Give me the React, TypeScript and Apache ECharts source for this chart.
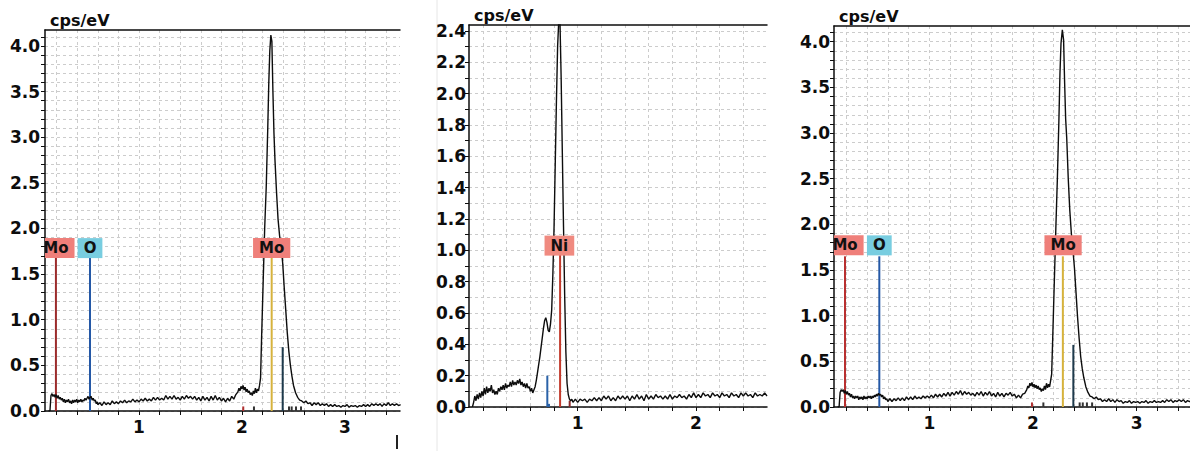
import React, { useEffect, useRef } from "react";
import * as echarts from "echarts";

// ---------- DATA ----------
// Panel 1 spectrum (keV, cps/eV)
const spec1: number[][] = [
  [0.12, 0.0], [0.135, 0.0], [0.145, 0.17], [0.155, 0.19], [0.165, 0.16], [0.175, 0.18], [0.185, 0.15], [0.195, 0.18],
  [0.205, 0.14], [0.215, 0.17], [0.225, 0.13], [0.235, 0.15], [0.245, 0.12], [0.255, 0.14], [0.265, 0.10], [0.275, 0.13],
  [0.285, 0.09], [0.295, 0.12], [0.305, 0.10], [0.315, 0.13], [0.325, 0.09], [0.335, 0.11], [0.345, 0.08], [0.355, 0.12],
  [0.365, 0.09], [0.375, 0.12], [0.385, 0.10], [0.395, 0.13], [0.405, 0.09], [0.415, 0.12], [0.425, 0.10], [0.435, 0.13],
  [0.445, 0.10], [0.455, 0.12], [0.465, 0.11], [0.475, 0.14], [0.485, 0.12], [0.495, 0.14], [0.505, 0.16], [0.515, 0.13],
  [0.525, 0.15], [0.535, 0.16], [0.545, 0.12], [0.555, 0.14], [0.565, 0.11], [0.575, 0.12], [0.585, 0.08], [0.595, 0.10],
  [0.60, 0.07], [0.62, 0.09], [0.64, 0.06], [0.66, 0.10], [0.68, 0.07], [0.70, 0.09], [0.72, 0.07], [0.74, 0.11],
  [0.76, 0.08], [0.78, 0.10], [0.80, 0.08], [0.82, 0.11], [0.84, 0.09], [0.86, 0.12], [0.88, 0.09], [0.90, 0.11],
  [0.92, 0.10], [0.94, 0.13], [0.96, 0.10], [0.98, 0.12], [1.00, 0.10], [1.02, 0.13], [1.04, 0.11], [1.06, 0.14],
  [1.08, 0.11], [1.10, 0.13], [1.12, 0.11], [1.14, 0.15], [1.16, 0.12], [1.18, 0.15], [1.20, 0.12], [1.22, 0.14],
  [1.24, 0.12], [1.26, 0.17], [1.28, 0.13], [1.30, 0.16], [1.32, 0.13], [1.34, 0.17], [1.36, 0.13], [1.38, 0.15],
  [1.40, 0.12], [1.42, 0.16], [1.44, 0.13], [1.46, 0.17], [1.48, 0.14], [1.50, 0.16], [1.52, 0.13], [1.54, 0.16],
  [1.56, 0.12], [1.58, 0.15], [1.60, 0.11], [1.62, 0.16], [1.64, 0.12], [1.66, 0.15], [1.68, 0.11], [1.70, 0.16],
  [1.72, 0.12], [1.74, 0.17], [1.76, 0.12], [1.78, 0.15], [1.80, 0.11], [1.82, 0.14], [1.84, 0.10], [1.86, 0.14],
  [1.88, 0.11], [1.90, 0.16], [1.92, 0.13], [1.94, 0.18], [1.96, 0.21], [1.97, 0.25], [1.98, 0.22], [1.99, 0.27],
  [2.00, 0.24], [2.01, 0.28], [2.02, 0.23], [2.03, 0.26], [2.04, 0.21], [2.05, 0.24], [2.06, 0.20], [2.07, 0.22],
  [2.08, 0.18], [2.09, 0.20], [2.10, 0.17], [2.11, 0.22], [2.12, 0.19], [2.13, 0.25], [2.14, 0.20], [2.15, 0.24],
  [2.16, 0.22], [2.17, 0.28], [2.18, 0.36], [2.19, 0.80], [2.205, 1.40], [2.22, 2.00], [2.235, 2.45], [2.25, 3.10],
  [2.26, 3.60], [2.27, 3.95], [2.28, 4.12], [2.29, 4.05], [2.30, 3.50], [2.31, 3.05], [2.32, 2.75], [2.335, 2.40],
  [2.35, 2.10], [2.365, 1.92], [2.38, 1.80], [2.395, 1.62], [2.41, 1.35], [2.425, 1.10], [2.44, 0.85], [2.455, 0.65],
  [2.47, 0.50], [2.485, 0.38], [2.50, 0.28], [2.52, 0.20], [2.54, 0.15], [2.56, 0.12], [2.58, 0.11], [2.60, 0.09],
  [2.62, 0.11], [2.64, 0.08], [2.66, 0.09], [2.68, 0.06], [2.70, 0.09], [2.72, 0.07], [2.74, 0.09], [2.76, 0.06],
  [2.78, 0.08], [2.80, 0.06], [2.82, 0.08], [2.84, 0.05], [2.86, 0.07], [2.88, 0.05], [2.90, 0.07], [2.92, 0.05],
  [2.94, 0.06], [2.96, 0.04], [2.98, 0.06], [3.00, 0.05], [3.02, 0.07], [3.04, 0.04], [3.06, 0.06], [3.08, 0.05],
  [3.10, 0.06], [3.12, 0.04], [3.14, 0.06], [3.16, 0.05], [3.18, 0.07], [3.20, 0.05], [3.22, 0.07], [3.24, 0.05],
  [3.26, 0.08], [3.28, 0.06], [3.30, 0.08], [3.32, 0.06], [3.34, 0.08], [3.36, 0.05], [3.38, 0.08], [3.40, 0.06],
  [3.42, 0.09], [3.44, 0.06], [3.46, 0.08], [3.48, 0.06], [3.50, 0.08], [3.52, 0.06], [3.54, 0.07],
];

// Panel 2 spectrum (Ni)
const spec2: number[][] = [
  [0.11, 0.0], [0.12, 0.03], [0.13, 0.07], [0.14, 0.04], [0.15, 0.08], [0.16, 0.05], [0.17, 0.09], [0.18, 0.06],
  [0.19, 0.10], [0.20, 0.07], [0.21, 0.12], [0.22, 0.08], [0.23, 0.13], [0.24, 0.09], [0.25, 0.12], [0.26, 0.10],
  [0.27, 0.14], [0.28, 0.09], [0.29, 0.11], [0.30, 0.08], [0.31, 0.10], [0.32, 0.08], [0.33, 0.12], [0.34, 0.10],
  [0.35, 0.13], [0.36, 0.11], [0.37, 0.14], [0.38, 0.11], [0.39, 0.15], [0.40, 0.12], [0.41, 0.14], [0.42, 0.13],
  [0.43, 0.16], [0.44, 0.13], [0.45, 0.17], [0.46, 0.14], [0.47, 0.16], [0.48, 0.14], [0.49, 0.17], [0.50, 0.15],
  [0.51, 0.18], [0.52, 0.14], [0.53, 0.16], [0.54, 0.13], [0.55, 0.15], [0.56, 0.12], [0.57, 0.15], [0.58, 0.12],
  [0.59, 0.13], [0.60, 0.10], [0.61, 0.12], [0.62, 0.09], [0.63, 0.11], [0.64, 0.13], [0.65, 0.17], [0.66, 0.22],
  [0.67, 0.27], [0.68, 0.32], [0.69, 0.38], [0.70, 0.44], [0.71, 0.50], [0.72, 0.55], [0.73, 0.57], [0.74, 0.54],
  [0.75, 0.49], [0.76, 0.48], [0.77, 0.53], [0.78, 0.62], [0.79, 0.85], [0.80, 1.15], [0.81, 1.55], [0.82, 1.95],
  [0.83, 2.30], [0.84, 2.47], [0.85, 2.46], [0.86, 2.10], [0.87, 1.62], [0.88, 1.15], [0.89, 0.70], [0.90, 0.35],
  [0.91, 0.15], [0.92, 0.08], [0.93, 0.05], [0.94, 0.04], [0.95, 0.05], [0.96, 0.03], [0.98, 0.05], [1.00, 0.03],
  [1.02, 0.05], [1.04, 0.04], [1.06, 0.05], [1.08, 0.03], [1.10, 0.05], [1.12, 0.04], [1.14, 0.06], [1.16, 0.04],
  [1.18, 0.06], [1.20, 0.04], [1.22, 0.07], [1.24, 0.05], [1.26, 0.07], [1.28, 0.04], [1.30, 0.06], [1.32, 0.04],
  [1.34, 0.07], [1.36, 0.05], [1.38, 0.07], [1.40, 0.05], [1.42, 0.07], [1.44, 0.04], [1.46, 0.07], [1.48, 0.05],
  [1.50, 0.08], [1.52, 0.05], [1.54, 0.07], [1.56, 0.04], [1.58, 0.08], [1.60, 0.05], [1.62, 0.07], [1.64, 0.05],
  [1.66, 0.08], [1.68, 0.06], [1.70, 0.07], [1.72, 0.05], [1.74, 0.07], [1.76, 0.05], [1.78, 0.08], [1.80, 0.05],
  [1.82, 0.07], [1.84, 0.06], [1.86, 0.08], [1.88, 0.06], [1.90, 0.07], [1.92, 0.05], [1.94, 0.08], [1.96, 0.06],
  [1.98, 0.09], [2.00, 0.06], [2.02, 0.08], [2.04, 0.06], [2.06, 0.09], [2.08, 0.07], [2.10, 0.08], [2.12, 0.06],
  [2.14, 0.09], [2.16, 0.07], [2.18, 0.08], [2.20, 0.06], [2.22, 0.09], [2.24, 0.07], [2.26, 0.08], [2.28, 0.06],
  [2.30, 0.09], [2.32, 0.07], [2.34, 0.08], [2.36, 0.06], [2.38, 0.09], [2.40, 0.07], [2.42, 0.09], [2.44, 0.07],
  [2.46, 0.08], [2.48, 0.06], [2.50, 0.09], [2.52, 0.07], [2.54, 0.08], [2.56, 0.07], [2.58, 0.09], [2.60, 0.07],
];

// Panel 3 spectrum
const spec3: number[][] = [
  [0.115, 0.0], [0.13, 0.0], [0.14, 0.16], [0.15, 0.19], [0.16, 0.17], [0.17, 0.19], [0.18, 0.15], [0.19, 0.18],
  [0.20, 0.14], [0.21, 0.17], [0.22, 0.13], [0.23, 0.15], [0.24, 0.11], [0.25, 0.14], [0.26, 0.10], [0.27, 0.12],
  [0.28, 0.09], [0.29, 0.12], [0.30, 0.10], [0.31, 0.12], [0.32, 0.08], [0.33, 0.11], [0.34, 0.09], [0.35, 0.11],
  [0.36, 0.08], [0.37, 0.12], [0.38, 0.09], [0.39, 0.11], [0.40, 0.09], [0.41, 0.12], [0.42, 0.10], [0.43, 0.12],
  [0.44, 0.09], [0.45, 0.12], [0.46, 0.10], [0.47, 0.13], [0.48, 0.11], [0.49, 0.14], [0.50, 0.12], [0.51, 0.15],
  [0.52, 0.13], [0.53, 0.14], [0.54, 0.11], [0.55, 0.13], [0.56, 0.09], [0.57, 0.11], [0.58, 0.08], [0.59, 0.09],
  [0.60, 0.06], [0.62, 0.09], [0.64, 0.06], [0.66, 0.09], [0.68, 0.07], [0.70, 0.10], [0.72, 0.07], [0.74, 0.10],
  [0.76, 0.07], [0.78, 0.11], [0.80, 0.08], [0.82, 0.11], [0.84, 0.08], [0.86, 0.12], [0.88, 0.09], [0.90, 0.11],
  [0.92, 0.09], [0.94, 0.12], [0.96, 0.10], [0.98, 0.12], [1.00, 0.10], [1.02, 0.13], [1.04, 0.10], [1.06, 0.14],
  [1.08, 0.11], [1.10, 0.14], [1.12, 0.11], [1.14, 0.15], [1.16, 0.12], [1.18, 0.16], [1.20, 0.12], [1.22, 0.16],
  [1.24, 0.13], [1.26, 0.17], [1.28, 0.14], [1.30, 0.18], [1.32, 0.13], [1.34, 0.17], [1.36, 0.14], [1.38, 0.16],
  [1.40, 0.13], [1.42, 0.15], [1.44, 0.12], [1.46, 0.16], [1.48, 0.13], [1.50, 0.17], [1.52, 0.12], [1.54, 0.16],
  [1.56, 0.13], [1.58, 0.17], [1.60, 0.12], [1.62, 0.15], [1.64, 0.11], [1.66, 0.16], [1.68, 0.12], [1.70, 0.15],
  [1.72, 0.11], [1.74, 0.15], [1.76, 0.13], [1.78, 0.16], [1.80, 0.12], [1.82, 0.14], [1.84, 0.10], [1.86, 0.13],
  [1.88, 0.10], [1.90, 0.14], [1.92, 0.15], [1.94, 0.19], [1.95, 0.23], [1.96, 0.21], [1.97, 0.26], [1.98, 0.23],
  [1.99, 0.27], [2.00, 0.22], [2.01, 0.25], [2.02, 0.21], [2.03, 0.24], [2.04, 0.20], [2.05, 0.23], [2.06, 0.19],
  [2.07, 0.21], [2.08, 0.17], [2.09, 0.20], [2.10, 0.18], [2.11, 0.23], [2.12, 0.19], [2.13, 0.26], [2.14, 0.21],
  [2.15, 0.25], [2.16, 0.22], [2.17, 0.29], [2.18, 0.36], [2.19, 0.75], [2.205, 1.35], [2.22, 1.95], [2.235, 2.50],
  [2.25, 3.15], [2.26, 3.65], [2.27, 3.98], [2.283, 4.13], [2.295, 4.02], [2.305, 3.55], [2.315, 3.15], [2.325, 2.95],
  [2.34, 2.50], [2.355, 2.15], [2.37, 1.90], [2.385, 1.72], [2.40, 1.52], [2.415, 1.25], [2.43, 0.98], [2.445, 0.75],
  [2.46, 0.55], [2.475, 0.42], [2.49, 0.32], [2.51, 0.22], [2.53, 0.16], [2.55, 0.12], [2.57, 0.11], [2.59, 0.09],
  [2.61, 0.11], [2.63, 0.08], [2.65, 0.09], [2.67, 0.06], [2.69, 0.08], [2.71, 0.06], [2.73, 0.09], [2.75, 0.06],
  [2.77, 0.08], [2.79, 0.05], [2.81, 0.08], [2.83, 0.06], [2.85, 0.07], [2.87, 0.04], [2.89, 0.06], [2.91, 0.05],
  [2.93, 0.07], [2.95, 0.04], [2.97, 0.06], [2.99, 0.05], [3.01, 0.06], [3.03, 0.04], [3.05, 0.06], [3.07, 0.05],
  [3.09, 0.07], [3.11, 0.04], [3.13, 0.06], [3.15, 0.05], [3.17, 0.07], [3.19, 0.05], [3.21, 0.06], [3.23, 0.05],
  [3.25, 0.07], [3.27, 0.05], [3.29, 0.08], [3.31, 0.06], [3.33, 0.08], [3.35, 0.05], [3.37, 0.07], [3.39, 0.06],
  [3.41, 0.08], [3.43, 0.06], [3.45, 0.08], [3.47, 0.05], [3.49, 0.07], [3.51, 0.06], [3.53, 0.07],
];

// Element marker lines (energy keV, height cps/eV)
const p1MarkerEnergy = [0.193, 0.524, 2.288, 2.395, 2.012, 2.116, 2.456, 2.482, 2.524, 2.573];
const p1MarkerHeight = [1.68, 1.68, 1.68, 0.70, 0.05, 0.05, 0.05, 0.05, 0.05, 0.05];
const p2MarkerEnergy = [0.851, 0.743, 0.757, 0.932];
const p2MarkerHeight = [0.97, 0.20, 0.02, 0.04];
const p3MarkerEnergy = [0.187, 0.518, 2.288, 2.389, 1.99, 2.10, 2.45, 2.48, 2.52, 2.57];
const p3MarkerHeight = [1.65, 1.65, 1.65, 0.68, 0.05, 0.05, 0.05, 0.05, 0.05, 0.05];

// Element labels
const p1Labels = ["Mo", "O", "Mo"];
const p1LabelEnergy = [0.193, 0.524, 2.288];
const p1LabelLevel = 1.785;
const p2Labels = ["Ni"];
const p2LabelEnergy = [0.845];
const p2LabelLevel = 1.03;
const p3Labels = ["Mo", "O", "Mo"];
const p3LabelEnergy = [0.187, 0.518, 2.29];
const p3LabelLevel = 1.77;

// Axis ranges and ticks
const p1XRange = [0.087, 3.534];
const p2XRange = [0.081, 2.6];
const p3XRange = [0.081, 3.514];
const p1YMax = 4.175;
const p2YMax = 2.438;
const p3YMax = 4.172;
const xLabels13 = [1, 2, 3];
const xLabels12 = [1, 2];
const xTicks35 = [0.2, 0.4, 0.6, 0.8, 1.0, 1.2, 1.4, 1.6, 1.8, 2.0, 2.2, 2.4, 2.6, 2.8, 3.0, 3.2, 3.4];
const xTicks26 = [0.2, 0.4, 0.6, 0.8, 1.0, 1.2, 1.4, 1.6, 1.8, 2.0, 2.2, 2.4];
const yLabels4 = [0, 0.5, 1.0, 1.5, 2.0, 2.5, 3.0, 3.5, 4.0];
const yTicks4 = [0, 0.1, 0.2, 0.3, 0.4, 0.5, 0.6, 0.7, 0.8, 0.9, 1.0, 1.1, 1.2, 1.3, 1.4, 1.5, 1.6, 1.7, 1.8, 1.9, 2.0,
  2.1, 2.2, 2.3, 2.4, 2.5, 2.6, 2.7, 2.8, 2.9, 3.0, 3.1, 3.2, 3.3, 3.4, 3.5, 3.6, 3.7, 3.8, 3.9, 4.0, 4.1];
const yLabels24 = [0, 0.2, 0.4, 0.6, 0.8, 1.0, 1.2, 1.4, 1.6, 1.8, 2.0, 2.2, 2.4];
const yTicks24 = [0, 0.1, 0.2, 0.3, 0.4, 0.5, 0.6, 0.7, 0.8, 0.9, 1.0, 1.1, 1.2, 1.3, 1.4, 1.5, 1.6, 1.7, 1.8, 1.9, 2.0,
  2.1, 2.2, 2.3, 2.4];

// ---------- STYLES ----------
const FONT = "DejaVu Sans";
const INK = "#0d0d0d";
const GRIDLINE = "#cccccc";
const p1MarkerColors = ["#9b2b2b", "#2458a6", "#d6b23c", "#1e3a4c", "#b03030", "#333", "#333", "#333", "#333", "#333"];
const p2MarkerColors = ["#c23a2c", "#2a62a8", "#2a62a8", "#8b2a2a"];
const p3MarkerColors = ["#b83030", "#2458a6", "#d6b23c", "#1e3a4c", "#b03030", "#333", "#333", "#333", "#333", "#333"];
const labelFill: Record<string, string> = { Mo: "#ef7f7a", O: "#78cde0", Ni: "#f08a80" };

export default function App() {
  const ref = useRef<HTMLDivElement>(null);
  useEffect(() => {
    if (!ref.current) return;
    const chart = echarts.init(ref.current, null, { renderer: "svg" });

    const grids = [
      { left: 45, top: 30, width: 355, height: 381 },
      { left: 469, top: 25, width: 298, height: 382 },
      { left: 834, top: 26, width: 356, height: 381 },
    ];
    const xRanges = [p1XRange, p2XRange, p3XRange];
    const xLabs = [xLabels13, xLabels12, xLabels13];
    const xTks = [xTicks35, xTicks26, xTicks35];
    const yMaxes = [p1YMax, p2YMax, p3YMax];
    const yLabs = [yLabels4, yLabels24, yLabels4];
    const yTks = [yTicks4, yTicks24, yTicks4];
    const yLabelMargins = [5, 3, 4];

    const xAxes: any[] = [];
    const yAxes: any[] = [];
    for (let i = 0; i < 3; i++) {
      xAxes.push({
        type: "value", gridIndex: i, min: xRanges[i][0], max: xRanges[i][1],
        axisLine: { show: true, onZero: false, lineStyle: { color: INK, width: 1.5 } },
        axisTick: { show: true, customValues: xTks[i], length: 4, lineStyle: { color: INK } },
        axisLabel: { customValues: xLabs[i], color: INK, fontSize: 17, fontWeight: "bold", fontFamily: FONT, margin: 7 },
        splitLine: { show: true, lineStyle: { color: GRIDLINE, type: [3, 3], width: 1 } },
      });
      yAxes.push({
        type: "value", gridIndex: i, min: 0, max: yMaxes[i],
        name: "cps/eV", nameLocation: "end", nameGap: 2,
        nameTextStyle: {
          color: INK, fontSize: 16, fontWeight: "bold", fontFamily: FONT,
          align: "left", verticalAlign: "bottom", padding: [0, 0, 0, 5],
        },
        axisLine: { show: true, lineStyle: { color: INK, width: 1.5 } },
        axisTick: { show: true, customValues: yTks[i], length: 4, lineStyle: { color: INK } },
        axisLabel: {
          customValues: yLabs[i], color: INK, fontSize: 17, fontWeight: "bold", fontFamily: FONT, margin: yLabelMargins[i],
          formatter: (v: number) => v.toFixed(1),
        },
        splitLine: { show: true, lineStyle: { color: GRIDLINE, type: [3, 3], width: 1 } },
      });
    }
    for (let i = 0; i < 3; i++) {
      xAxes.push({
        type: "value", gridIndex: i, position: "top", min: xRanges[i][0], max: xRanges[i][1],
        axisLine: { show: true, onZero: false, lineStyle: { color: INK, width: 1.5 } },
        axisTick: { show: false }, axisLabel: { show: false }, splitLine: { show: false },
      });
    }

    const specs = [spec1, spec2, spec3];
    const mEnergy = [p1MarkerEnergy, p2MarkerEnergy, p3MarkerEnergy];
    const mHeight = [p1MarkerHeight, p2MarkerHeight, p3MarkerHeight];
    const mColors = [p1MarkerColors, p2MarkerColors, p3MarkerColors];
    const lNames = [p1Labels, p2Labels, p3Labels];
    const lEnergy = [p1LabelEnergy, p2LabelEnergy, p3LabelEnergy];
    const lLevel = [p1LabelLevel, p2LabelLevel, p3LabelLevel];

    const series: any[] = [];
    for (let i = 0; i < 3; i++) {
      const colors = mColors[i];
      series.push({
        type: "custom", xAxisIndex: i, yAxisIndex: i, clip: true, z: 2,
        data: mEnergy[i].map((e, k) => [e, mHeight[i][k]]),
        renderItem: (params: any, api: any) => {
          const p0 = api.coord([api.value(0), 0]);
          const p1 = api.coord([api.value(0), api.value(1)]);
          return {
            type: "line",
            shape: { x1: p0[0], y1: p0[1], x2: p1[0], y2: p1[1] },
            style: { stroke: colors[params.dataIndex], lineWidth: 2 },
          };
        },
      });
      series.push({
        type: "line", xAxisIndex: i, yAxisIndex: i, data: specs[i], showSymbol: false, clip: true, z: 3,
        lineStyle: { color: INK, width: 1.4 }, silent: true,
      });
      const names = lNames[i];
      const level = lLevel[i];
      series.push({
        type: "custom", xAxisIndex: i, yAxisIndex: i, clip: true, z: 4,
        data: lEnergy[i].map((e) => [e, level]),
        renderItem: (params: any, api: any) => {
          const p = api.coord([api.value(0), api.value(1)]);
          const name = names[params.dataIndex];
          return {
            type: "text", x: p[0], y: p[1],
            style: {
              text: name, fill: "#111", fontSize: 15, fontWeight: "bold", fontFamily: FONT, lineHeight: 16,
              align: "center", verticalAlign: "middle",
              backgroundColor: labelFill[name], padding: [2, 6, 2, 6],
            },
          };
        },
      });
    }

    chart.setOption({
      animation: false,
      backgroundColor: "#ffffff",
      textStyle: { fontFamily: FONT },
      grid: grids,
      xAxis: xAxes,
      yAxis: yAxes,
      series,
      graphic: [
        { type: "line", shape: { x1: 437, y1: 0, x2: 437, y2: 451 }, style: { stroke: "#e6e6e6", lineWidth: 1 } },
        { type: "line", shape: { x1: 397, y1: 435, x2: 397, y2: 449 }, style: { stroke: "#222", lineWidth: 2 } },
      ],
    });
    return () => chart.dispose();
  }, []);
  return <div ref={ref} style={{ position: "fixed", left: 0, top: 0, width: 1190, height: 451, background: "#fff" }} />;
}
